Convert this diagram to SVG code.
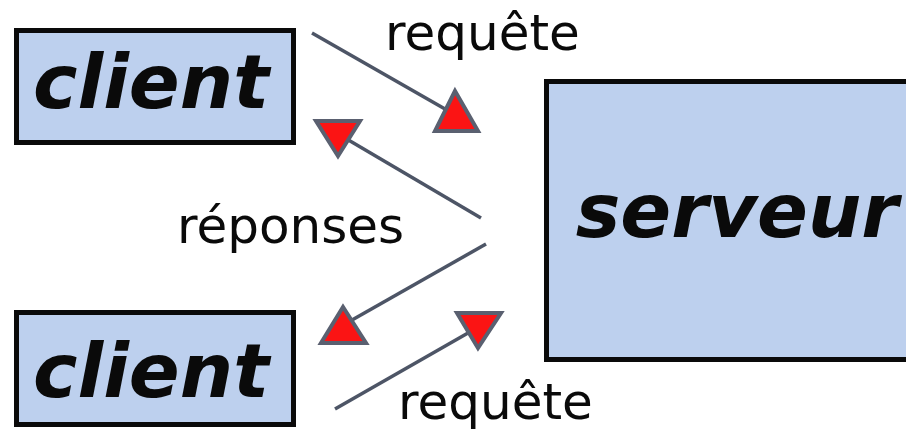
<svg xmlns="http://www.w3.org/2000/svg" width="906" height="430" viewBox="0 0 906 430">
<style>
.box{fill:#bdd0ee;stroke:#0a0a0a;stroke-width:5}
.name{font-family:"DejaVu Sans",Verdana,sans-serif;font-weight:bold;font-style:italic;font-size:75px;fill:#0a0a0a;text-anchor:middle}
.lbl{font-family:"DejaVu Sans",Verdana,sans-serif;font-size:50px;fill:#0a0a0a}
.ln{stroke:#4d5566;stroke-width:3.5;fill:none}
.head{fill:#fb1414;stroke:#5a6070;stroke-width:4;stroke-linejoin:miter}
</style>
<rect width="906" height="430" fill="#ffffff"/>
<g id="client1">
<rect class="box" x="16.5" y="30.5" width="277" height="112"/>
<text class="name" x="151" y="108">client</text>
</g>
<g id="client2">
<rect class="box" x="16.5" y="312.5" width="277" height="112"/>
<text class="name" x="151" y="397">client</text>
</g>
<g id="serveur">
<rect class="box" x="546.5" y="81.5" width="400" height="278"/>
<text class="name" x="737" y="237">serveur</text>
</g>
<g id="connectors">
<line class="ln" x1="312" y1="33" x2="452" y2="113"/>
<line class="ln" x1="481" y1="218" x2="345" y2="138"/>
<line class="ln" x1="486" y1="244" x2="345" y2="324"/>
<line class="ln" x1="335" y1="409" x2="475" y2="329"/>
<polygon class="head" points="455,91 435,131 478,131"/>
<polygon class="head" points="316,121 360,121 338,156"/>
<polygon class="head" points="343,307 321,343 366,343"/>
<polygon class="head" points="457,313 501,313 478,348"/>
</g>
<g id="labels">
<text class="lbl" x="385" y="50">requête</text>
<text class="lbl" x="177" y="243">réponses</text>
<text class="lbl" x="398" y="419">requête</text>
</g>
</svg>
